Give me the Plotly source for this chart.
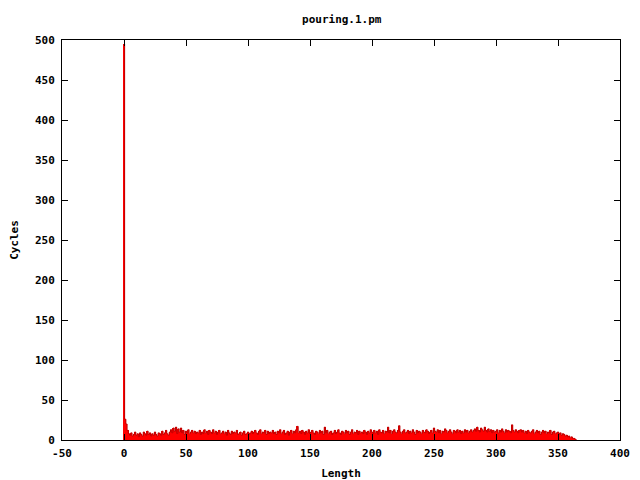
import plotly.graph_objects as go

title_text = "pouring.1.pm"
x_label = "Length"
y_label = "Cycles"

cycles = [
    495, 26, 20, 12, 8, 6, 9, 5, 7, 10, 6, 8, 4, 9, 7, 5, 10, 8, 6, 11,
    7, 9, 5, 8, 6, 10, 7, 5, 9, 8, 6, 11, 7, 9, 12, 8, 6, 10, 13, 9,
    15, 11, 16, 8, 14, 10, 15, 9, 12, 7, 11, 9, 13, 8, 10, 12, 9, 11, 8, 10,
    9, 12, 7, 10, 8, 13, 9, 11, 7, 12, 10, 8, 13, 9, 11, 7, 10, 12, 8, 9,
    11, 8, 10, 6, 12, 9, 7, 11, 8, 10, 9, 12, 7, 8, 10, 6, 9, 11, 7, 8,
    10, 7, 9, 11, 8, 10, 12, 9, 7, 11, 13, 8, 10, 9, 12, 7, 11, 8, 10, 9,
    12, 8, 10, 7, 11, 9, 13, 8, 10, 12, 7, 9, 11, 6, 10, 12, 8, 11, 9, 13,
    17, 9, 11, 8, 12, 10, 7, 11, 9, 13, 8, 10, 12, 9, 7, 11, 10, 8, 12, 9,
    11, 7, 16, 9, 12, 8, 10, 11, 7, 9, 12, 8, 10, 13, 9, 7, 11, 10, 8, 12,
    9, 11, 7, 10, 13, 8, 10, 9, 12, 7, 11, 9, 10, 8, 12, 10, 7, 11, 9, 13,
    10, 8, 12, 9, 11, 7, 13, 10, 9, 12, 8, 11, 10, 16, 9, 12, 8, 11, 13, 10,
    9, 12, 18, 10, 8, 11, 13, 9, 10, 12, 8, 11, 9, 13, 10, 7, 12, 9, 11, 10,
    8, 12, 10, 9, 13, 11, 8, 10, 12, 9, 15, 11, 10, 13, 9, 12, 8, 11, 10, 14,
    12, 9, 11, 13, 10, 8, 12, 11, 9, 13, 10, 12, 8, 11, 9, 13, 10, 12, 9, 11,
    13, 10, 12, 14, 11, 16, 12, 10, 15, 13, 11, 16, 12, 10, 14, 11, 13, 9, 12, 10,
    11, 13, 9, 12, 10, 14, 11, 9, 13, 10, 12, 11, 9, 19, 12, 10, 13, 11, 9, 12,
    13, 10, 12, 9, 11, 8, 12, 10, 9, 11, 13, 8, 10, 12, 9, 11, 7, 10, 12, 9,
    11, 8, 10, 9, 12, 7, 10, 11, 8, 9, 10, 7, 9, 6, 8, 7, 5, 6, 4, 5,
    3, 4, 2, 2, 1, 0,
]
lengths = list(range(len(cycles)))

x_ticks = [-50, 0, 50, 100, 150, 200, 250, 300, 350, 400]
y_ticks = [0, 50, 100, 150, 200, 250, 300, 350, 400, 450, 500]

fig = go.Figure()
fig.add_trace(
    go.Bar(
        x=lengths,
        y=cycles,
        width=1,
        marker=dict(color="#ff0000", line=dict(width=0)),
    )
)
fig.add_trace(
    go.Scatter(
        x=lengths,
        y=cycles,
        mode="lines",
        line=dict(shape="hvh", color="#c00000", width=1),
        hoverinfo="skip",
    )
)

font = dict(family="DejaVu Sans Mono", size=11, color="black", weight="bold")

fig.update_layout(
    width=640,
    height=480,
    margin=dict(l=62, r=20, t=40, b=40, autoexpand=False),
    paper_bgcolor="white",
    plot_bgcolor="white",
    bargap=0,
    showlegend=False,
    font=font,
    title=dict(text=title_text, x=0.534, xanchor="center", y=0.96, yanchor="middle", font=font),
)

fig.update_xaxes(
    range=[-50, 400],
    tickvals=x_ticks,
    ticktext=[str(v) for v in x_ticks],
    ticks="inside",
    ticklen=6,
    tickcolor="black",
    showline=True,
    linecolor="black",
    linewidth=1,
    mirror="ticks",
    showgrid=False,
    zeroline=False,
    automargin=False,
    ticklabelstandoff=3,
    title=dict(text=x_label, standoff=10, font=font),
    tickfont=font,
)
fig.update_yaxes(
    range=[0, 500],
    tickvals=y_ticks,
    ticktext=[str(v) for v in y_ticks],
    ticks="inside",
    ticklen=6,
    tickcolor="black",
    showline=True,
    linecolor="black",
    linewidth=1,
    mirror="ticks",
    showgrid=False,
    zeroline=False,
    automargin=False,
    ticklabelstandoff=4,
    title=dict(text=y_label, standoff=14, font=font),
    tickfont=font,
)

fig.write_html(
    "out.html",
    config={"displayModeBar": False},
    post_script="document.body.style.margin='0';document.body.style.padding='0';window.dispatchEvent(new Event('resize'));",
)
